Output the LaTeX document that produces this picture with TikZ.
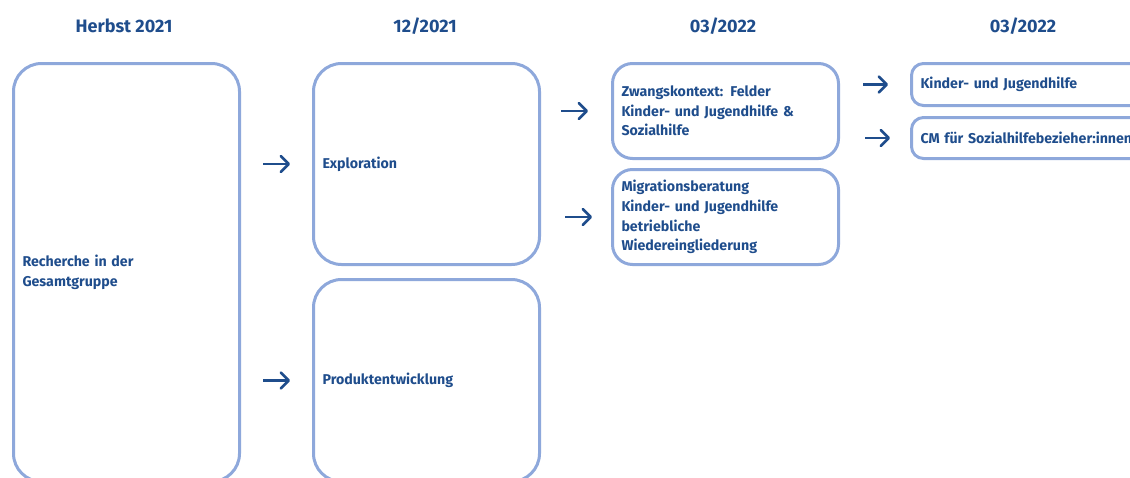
\documentclass[tikz,border=0pt]{standalone}
\usepackage{fontspec}
\setmainfont{Fira Sans}
\usepackage{tikz}
\definecolor{dunkelblau}{RGB}{31,77,140}
\definecolor{rahmenblau}{RGB}{142,168,219}
\usetikzlibrary{arrows.meta}

\begin{document}
\begin{tikzpicture}[x=1pt, y=-1pt,
	>={Straight Barb[length=8pt,width=16pt,round]},   %Pfeilspitzen
	kasten/.style={draw=rahmenblau, line width=3pt, rounded corners=#1, anchor=north west,
		align=left, inner xsep=9pt, inner ysep=0pt, text=dunkelblau,
		font=\bfseries\fontsize{14.2}{19.7}\selectfont},
	kasten/.default=28pt,
	kopf/.style={text=dunkelblau, font=\bfseries\fontsize{18}{20}\selectfont},
	pfeil/.style={->, draw=dunkelblau, line width=2.6pt}]
	% Bildbereich
	\useasboundingbox (0,0) rectangle (1130,477);
	\clip (0,0) rectangle (1130,477);
	% Kopfzeile
	\node[kopf] (herbst) at (124,26) {Herbst 2021};
	\node[kopf] (dez) at (425,26) {12/2021};
	\node[kopf] (maerzA) at (723,26) {03/2022};
	\node[kopf] (maerzB) at (1023,26) {03/2022};
	% Kaesten
	\node[kasten, text width=208pt, minimum height=418pt] (recherche) at (12,62) {Recherche in der\\Gesamtgruppe};
	\node[kasten, text width=208pt, minimum height=201pt] (explo) at (312,62) {Exploration};
	\node[kasten, text width=208pt, minimum height=202pt] (produkt) at (312,278) {Produktentwicklung};
	\node[kasten=20pt, text width=208pt, minimum height=95pt] (zwang) at (611,62) {Zwangskontext: Felder\\Kinder- und Jugendhilfe \&\\Sozialhilfe};
	\node[kasten=20pt, text width=208pt, minimum height=95pt] (migration) at (611,168) {Migrationsberatung\\Kinder- und Jugendhilfe\\betriebliche\\Wiedereingliederung};
	\node[kasten=12pt, text width=240pt, minimum height=42pt] (kinder) at (910,62) {Kinder- und Jugendhilfe};
	\node[kasten=12pt, text width=240pt, minimum height=41pt] (cm) at (910,116) {CM f\"ur Sozialhilfebezieher:innen};
	% Pfeile
	\draw[pfeil] (recherche.east |- explo.west) ++(22,0) -- ([xshift=-22pt]explo.west);
	\draw[pfeil] (recherche.east |- produkt.west) ++(22,0) -- ([xshift=-22pt]produkt.west);
	\draw[pfeil] (explo.east |- zwang.west) ++(20,0) -- ([xshift=-23pt]zwang.west);
	\draw[pfeil] (explo.east |- migration.west) ++(24,0) -- ([xshift=-19pt]migration.west);
	\draw[pfeil] (zwang.east |- kinder.west) ++(23,0) -- ([xshift=-22pt]kinder.west);
	\draw[pfeil] (zwang.east |- cm.west) ++(25,0) -- ([xshift=-20pt]cm.west);
\end{tikzpicture}
\end{document}
